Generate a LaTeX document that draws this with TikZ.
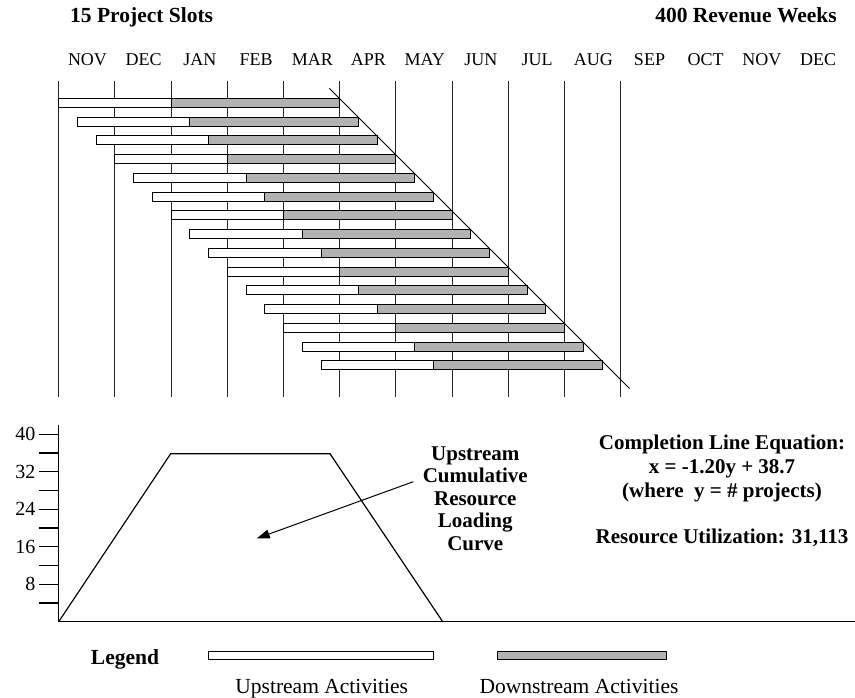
\documentclass[tikz,border=0pt]{standalone}
\usepackage{fontspec}
\setmainfont{Liberation Serif}
\usetikzlibrary{arrows.meta}
\begin{document}
\begin{tikzpicture}[x=1pt,y=-1pt,
  gridline/.style={line width=1.1pt,black!85},
  upbar/.style={draw=black,line width=0.9pt,fill=white},
  downbar/.style={draw=black,line width=0.9pt,fill=black!30},
  monthlbl/.style={font=\fontsize{18}{20}\selectfont,anchor=base,inner sep=0pt},
  boldtxt/.style={font=\fontsize{21}{24}\selectfont\bfseries,anchor=base,inner sep=0pt},
  plaintxt/.style={font=\fontsize{21.5}{25}\selectfont,anchor=base,inner sep=0pt},
  ticklbl/.style={font=\fontsize{20}{22}\selectfont,anchor=east,inner sep=0pt},
  curve/.style={line width=1.2pt,black}]
\fill[white] (0,0) rectangle (855,698);
\useasboundingbox (0,0) rectangle (855,698);

% headers
\node[boldtxt,font=\fontsize{21.5}{25}\selectfont\bfseries,anchor=base west] (hdrL) at (70,22.5) {15 Project Slots};
\node[boldtxt,font=\fontsize{21.5}{25}\selectfont\bfseries,anchor=base east] (hdrR) at (837,22.5) {400 Revenue Weeks};

% months
\foreach \m [count=\i from 0] in {NOV,DEC,JAN,FEB,MAR,APR,MAY,JUN,JUL,AUG,SEP,OCT,NOV,DEC}
  \node[monthlbl] (mon\i) at ({87.5+56.2*\i},66) {\m};

% vertical grid lines
\foreach \i in {0,...,10}
  \draw[gridline] ({58.7+56.2*\i},81) -- ({58.7+56.2*\i},397);

% bars
\foreach \k in {0,...,14} {
  \draw[upbar] ({58.7+18.733*\k},{98.3+18.75*\k}) rectangle ++(112.4,9);
  \draw[downbar] ({171.1+18.733*\k},{98.3+18.75*\k}) rectangle ++(168.6,9);
}

% completion line
\coordinate (cl1) at (329.3,88.3);
\coordinate (cl2) at (629.5,388.5);
\draw[line width=1pt] (cl1) -- (cl2);

% lower chart axes
\coordinate (ytop) at (58.7,425);
\coordinate (orig) at (58.7,621.7);
\coordinate (xend) at (855,621.7);
\draw[curve] (ytop) -- (orig) -- (xend);
\foreach \i in {1,...,10}
  \draw[curve] (39.3,{621.7-18.74*\i}) -- (58.7,{621.7-18.74*\i});
\foreach \v/\i in {8/2,16/4,24/6,32/8,40/10}
  \node[ticklbl] (tick\v) at (35.5,{621.7-18.74*\i}) {\v};

% loading curve
\coordinate (tp1) at (170.7,453.7);
\coordinate (tp2) at (330,453.7);
\coordinate (tp3) at (442.7,621.7);
\draw[curve] (orig) -- (tp1) -- (tp2) -- (tp3);

% curve label
\node[boldtxt] (lab1) at (475.3,460) {Upstream};
\node[boldtxt] (lab2) at (475.3,482.5) {Cumulative};
\node[boldtxt] (lab3) at (475.3,505) {Resource};
\node[boldtxt] (lab4) at (475.3,527.5) {Loading};
\node[boldtxt] (lab5) at (475.3,550) {Curve};
\coordinate (arrtail) at (413.3,481.7);
\coordinate (arrtip) at (256.7,538.5);
\draw[line width=1pt,-{Triangle[length=13pt,width=9pt]}] (arrtail) -- (arrtip);

% equation text
\node[boldtxt] (eq1) at (722,449.5) {Completion Line Equation:};
\node[boldtxt] (eq2) at (722,473.5) {x = -1.20y + 38.7};
\node[boldtxt] (eq3) at (722,497.5) {(where~ y = \# projects)};
\node[boldtxt] (eq4) at (722,543.5) {Resource Utilization: 31,113};

% legend
\node[boldtxt,font=\fontsize{21.5}{25}\selectfont\bfseries] (leg) at (125,664) {Legend};
\draw[upbar] (208.3,651) rectangle (433.3,659.5);
\draw[downbar] (497.4,651) rectangle (666.8,659.5);
\node[plaintxt] (legup) at (321.7,693) {Upstream Activities};
\node[plaintxt] (legdown) at (579,693) {Downstream Activities};
\end{tikzpicture}
\end{document}
